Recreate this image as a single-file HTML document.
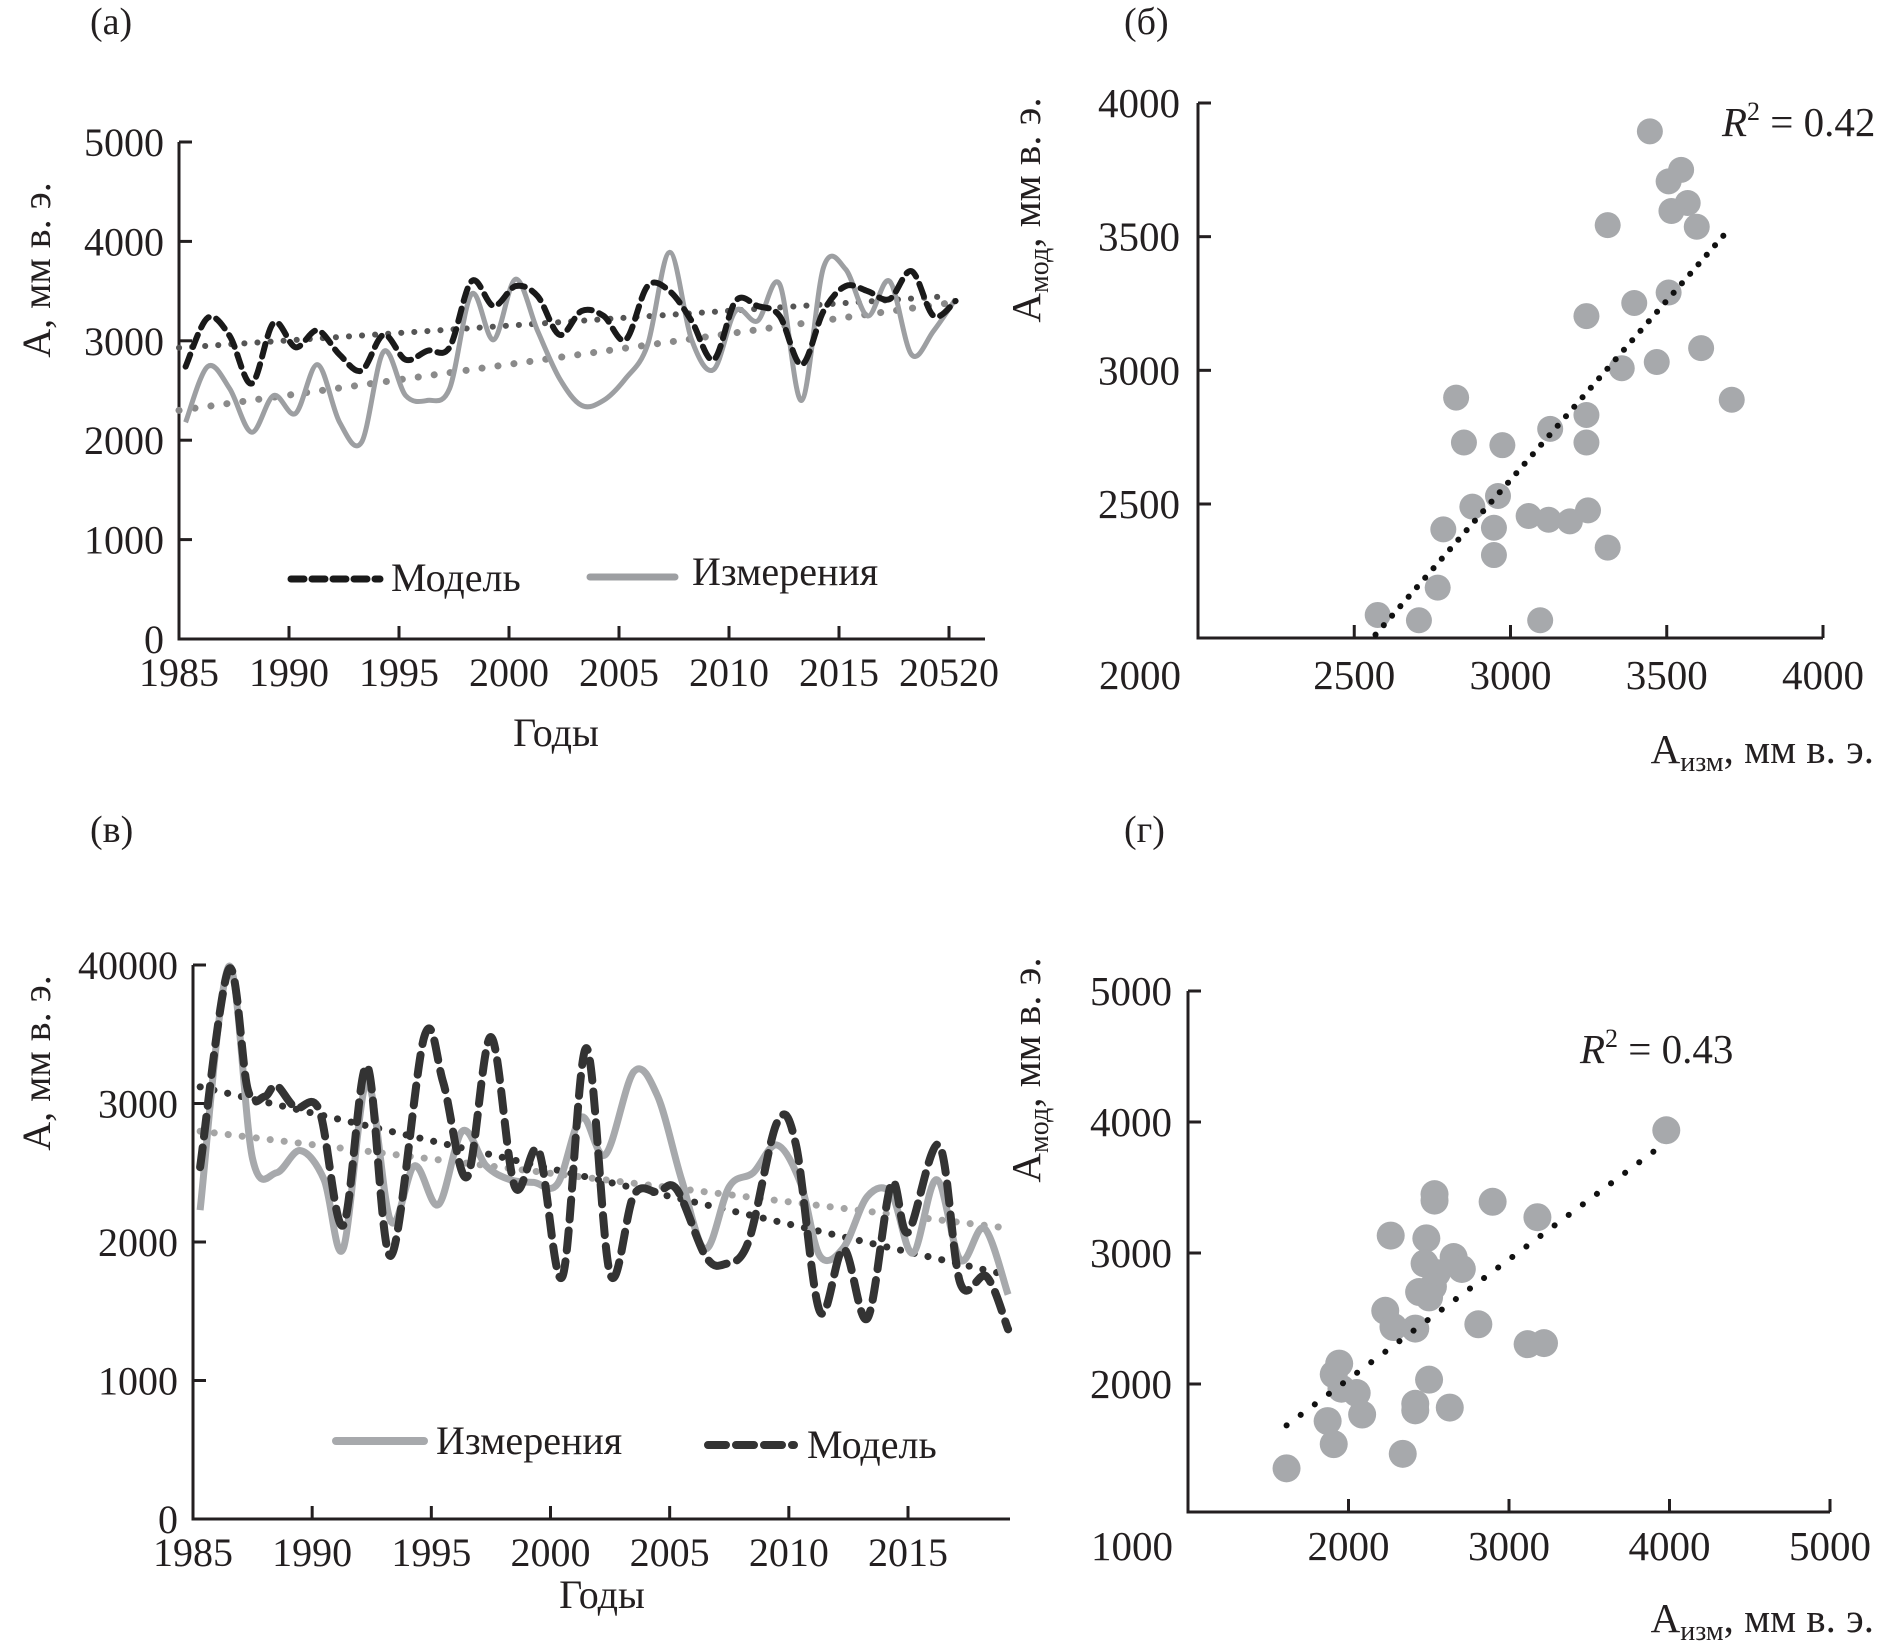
<!DOCTYPE html>
<html><head><meta charset="utf-8">
<style>
html,body{margin:0;padding:0;background:#fff;}
svg{display:block;font-family:"Liberation Serif","Noto Serif CJK SC",serif;}
</style></head>
<body>
<svg id="fig" width="1888" height="1644" viewBox="0 0 1888 1644" xmlns="http://www.w3.org/2000/svg"></svg>
<script>
// ---------- Panel (a) data ----------
const yearsA = [1985,1986,1987,1988,1989,1990,1991,1992,1993,1994,1995,1996,1997,1998,1999,2000,2001,2002,2003,2004,2005,2006,2007,2008,2009,2010,2011,2012,2013,2014,2015,2016,2017,2018,2019,2020];
const modelA = [2740,3230,3050,2570,3180,2935,3105,2860,2700,3060,2810,2900,2935,3600,3350,3550,3450,3060,3300,3250,3010,3550,3500,3200,2810,3400,3350,3250,2760,3300,3550,3500,3420,3700,3250,3400];
const measA = [2180,2740,2520,2080,2450,2270,2760,2180,1980,2890,2450,2400,2520,3470,3010,3620,3100,2620,2350,2400,2620,2960,3890,3010,2710,3300,3200,3570,2400,3740,3720,3250,3600,2860,3100,3420];
const trendModelA = [2930,3450];
const trendMeasA = [2300,3380];
const yTicksA = [0,1000,2000,3000,4000,5000];
const xTicksA = [1985,1990,1995,2000,2005,2010,2015,2020];
const xTickLabelsA = ["1985","1990","1995","2000","2005","2010","2015","20520"];

// ---------- Panel (б) data ----------
const measB = [3446,3546,3506,3567,3515,3596,3311,3506,3396,3243,3610,3468,3356,3708,2826,3243,3243,2851,2974,3127,2960,2878,2947,3058,3122,3190,3248,2785,2947,3311,2767,2575,2707,3095];
const modB  = [3894,3750,3707,3626,3596,3537,3543,3291,3252,3203,3083,3031,3008,2890,2898,2833,2730,2730,2720,2781,2530,2490,2411,2455,2441,2435,2476,2405,2309,2337,2187,2085,2065,2065];
const trendB_x = [2568,3686];
const trendB_y = [2011,3510];
const yTicksB = [2500,3000,3500,4000];
const xTicksB = [2000,2500,3000,3500,4000];

// ---------- Panel (в) data ----------
const yearsMeasV = [1985.3,1986.5,1987.5,1988.5,1989.5,1990.5,1991.3,1992.3,1993.3,1994.3,1995.3,1996.3,1997.3,1998.3,1999.3,2000.3,2001.3,2002.3,2003.5,2004.5,2005.5,2006.5,2007.5,2008.5,2009.5,2010.5,2011.3,2012.3,2013.3,2014.3,2015.2,2016.2,2017.2,2018.2,2019.2];
const measV = [2230,3990,2600,2500,2660,2450,1950,3150,2150,2550,2270,2800,2550,2450,2430,2420,2900,2630,3230,3050,2450,1950,2400,2500,2700,2420,1900,1960,2330,2350,1920,2450,1870,2100,1620];
const yearsModelV = [1985.3,1986.5,1987.3,1988,1988.5,1989.3,1990.3,1991.3,1992.3,1993.3,1994.7,1995.5,1996.5,1997.5,1998.5,1999.5,2000.5,2001.5,2002.5,2003.5,2004.5,2005.3,2006.5,2007.3,2008.3,2009.5,2010.3,2011.3,2012.3,2013.3,2014.3,2015,2016.3,2017.2,2018.3,2019.2];
const modelV = [2540,3970,3100,3050,3130,2970,2950,2120,3270,1900,3480,3150,2470,3480,2400,2660,1750,3400,1770,2340,2360,2380,1900,1840,2000,2860,2700,1500,1950,1450,2420,2070,2700,1700,1750,1370];
const trendModelV = [3120,1760];
const trendMeasV = [2800,2100];
const trendYearsV = [1985.3,2019.2];
const yTicksV = [0,1000,2000,3000,4000];
const yTickLabelsV = ["0","1000","2000","3000","40000"];
const xTicksV = [1985,1990,1995,2000,2005,2010,2015];

// ---------- Panel (г) data ----------
const measG = [3980,2536,2536,2898,3177,2263,2485,2655,2474,2706,2550,2526,2440,2502,2229,2280,2416,2809,3116,3218,1942,1908,2051,1956,2502,2085,2416,2416,2631,1870,1908,2338,1614];
const modG  = [3937,3449,3400,3391,3273,3133,3112,2969,2920,2878,2846,2743,2702,2661,2559,2435,2423,2456,2304,2312,2156,2074,1931,1964,2033,1767,1849,1799,1820,1717,1541,1467,1356];
const trendG_x = [1614,3918];
const trendG_y = [1684,3790];
const yTicksG = [2000,3000,4000,5000];
const xTicksG = [1000,2000,3000,4000,5000];

const NS = "http://www.w3.org/2000/svg";
const svg = document.getElementById('fig');
function el(tag, attrs, parent){
  const e = document.createElementNS(NS, tag);
  for (const k in attrs) e.setAttribute(k, attrs[k]);
  (parent||svg).appendChild(e);
  return e;
}
function txt(s, x, y, size, anchor, parent, extra){
  const t = el('text', Object.assign({x:x, y:y, 'font-size':size, 'text-anchor':anchor||'start', fill:'#231f20'}, extra||{}), parent);
  t.textContent = s;
  return t;
}
function lin(d0,d1,p0,p1){ return v => p0 + (v-d0)/(d1-d0)*(p1-p0); }
function smoothPath(pts){
  let d = 'M'+pts[0][0].toFixed(1)+','+pts[0][1].toFixed(1);
  for (let i=0;i<pts.length-1;i++){
    const p0 = pts[Math.max(0,i-1)], p1 = pts[i], p2 = pts[i+1], p3 = pts[Math.min(pts.length-1,i+2)];
    const c1x = p1[0]+(p2[0]-p0[0])/6, c1y = p1[1]+(p2[1]-p0[1])/6;
    const c2x = p2[0]-(p3[0]-p1[0])/6, c2y = p2[1]-(p3[1]-p1[1])/6;
    d += ' C'+c1x.toFixed(1)+','+c1y.toFixed(1)+' '+c2x.toFixed(1)+','+c2y.toFixed(1)+' '+p2[0].toFixed(1)+','+p2[1].toFixed(1);
  }
  return d;
}
const AX = '#231f20';
const FS = 40;

// ================= Panel (a) =================
{
  const g = el('g', {});
  
  
  const x = lin(1985, 2020, 179, 949);
  const y = lin(0, 5000, 639, 142);
  const lbl = txt('(a)', 90, 34, 38, 'start', g);
  
  
  const axes = el('path', {d:'M179,'+y(5000)+' V639 H985', stroke:AX, 'stroke-width':3, fill:'none'}, g);
  
  
  yTicksA.forEach(v => {
    el('line', {x1:179, x2:192, y1:y(v), y2:y(v), stroke:AX, 'stroke-width':3}, g);
    const t = txt(String(v), 164, y(v)+14, FS, 'end', g);
    
    
  });
  xTicksA.forEach((v,i) => {
    if (i>0) el('line', {x1:x(v), x2:x(v), y1:639, y2:626, stroke:AX, 'stroke-width':3}, g);
    const t = txt(xTickLabelsA[i], x(v), 686, FS, 'middle', g);
    
    
  });
  const yt = txt('A, мм в. э.', 0, 0, FS, 'middle', g, {transform:'translate(50,270) rotate(-90)'});
  
  
  const xt = txt('Годы', 556, 746, FS, 'middle', g);
  
  
  // trends
  const tm = el('line', {x1:x(1985), y1:y(trendModelA[0]), x2:x(2020), y2:y(trendModelA[1]), stroke:'#555', 'stroke-width':6, 'stroke-dasharray':'0.1 13', 'stroke-linecap':'round'}, g);
  
  
  const tmeas = el('line', {x1:x(1985), y1:y(trendMeasA[0]), x2:x(2020), y2:y(trendMeasA[1]), stroke:'#8a8a8a', 'stroke-width':7, 'stroke-dasharray':'0.1 16', 'stroke-linecap':'round'}, g);
  
  
  const pm = el('path', {d:smoothPath(yearsA.map((yr,i)=>[x(yr+0.3), y(measA[i])])), stroke:'#9d9fa2', 'stroke-width':5, fill:'none'}, g);
  
  
  const pd = el('path', {d:smoothPath(yearsA.map((yr,i)=>[x(yr+0.3), y(modelA[i])])), stroke:'#1a1a1a', 'stroke-width':6, fill:'none', 'stroke-dasharray':'13 8', 'stroke-linecap':'round'}, g);
  
  
  // legend
  const l1 = el('line', {x1:291, x2:380, y1:579, y2:579, stroke:'#1a1a1a', 'stroke-width':7, 'stroke-dasharray':'13 8', 'stroke-linecap':'round'}, g);
  
  
  const lt1 = txt('Модель', 391, 591, FS, 'start', g);
  
  
  const l2 = el('line', {x1:590, x2:675, y1:577, y2:577, stroke:'#9d9fa2', 'stroke-width':7, 'stroke-linecap':'round'}, g);
  
  
  const lt2 = txt('Измерения', 692, 585, FS, 'start', g);
  
  
}

// ================= Panel (б) =================
{
  const g = el('g', {});
  
  
  const x = lin(2000, 4000, 1198, 1823);
  const y = lin(2500, 4000, 504, 103);
  const y0 = 638;
  const lbl = txt('(б)', 1124, 34, 38, 'start', g);
  
  
  const axes = el('path', {d:'M1198,'+y(4000)+' V'+y0+' H1823', stroke:AX, 'stroke-width':3, fill:'none'}, g);
  
  
  yTicksB.forEach(v => {
    el('line', {x1:1198, x2:1211, y1:y(v), y2:y(v), stroke:AX, 'stroke-width':3}, g);
    const t = txt(String(v), 1180, y(v)+14, FS+1, 'end', g);
    
    
  });
  xTicksB.forEach((v,i) => {
    if (i>0) el('line', {x1:x(v), x2:x(v), y1:y0, y2:y0-13, stroke:AX, 'stroke-width':3}, g);
    const xx = i===0 ? 1140 : x(v);
    const t = txt(String(v), xx, 689, FS+1, 'middle', g);
    
    
  });
  const yt = el('text', {'font-size':FS+1, 'text-anchor':'middle', fill:'#231f20', transform:'translate(1040,210) rotate(-90)'}, g);
  yt.innerHTML = 'A<tspan font-size="28" dy="8">мод</tspan><tspan dy="-8">, мм в. э.</tspan>';
  
  
  const xt = el('text', {x:1874, y:763, 'font-size':FS+1, 'text-anchor':'end', fill:'#231f20'}, g);
  xt.innerHTML = 'A<tspan font-size="28" dy="8">изм</tspan><tspan dy="-8">, мм в. э.</tspan>';
  
  
  const r2 = el('text', {x:1722, y:136, 'font-size':FS+1, fill:'#231f20'}, g);
  r2.innerHTML = '<tspan font-style="italic">R</tspan><tspan font-size="26" dy="-16">2</tspan><tspan dy="16"> = 0.42</tspan>';
  
  
  measB.forEach((v,i) => {
    const c = el('circle', {cx:x(v), cy:y(modB[i]), r:13, fill:'#a7a9ac'}, g);
    
    
  });
  const tr = el('line', {x1:x(trendB_x[0]), y1:y(trendB_y[0]), x2:x(trendB_x[1]), y2:y(trendB_y[1]), stroke:'#111', 'stroke-width':6, 'stroke-dasharray':'0.1 12.5', 'stroke-linecap':'round'}, g);
  
  
}

// ================= Panel (в) =================
{
  const g = el('g', {});
  
  
  const x = lin(1985, 2015, 193, 908);
  const y = lin(0, 4000, 1519, 965);
  const lbl = txt('(в)', 90, 842, 38, 'start', g);
  
  
  const axes = el('path', {d:'M193,'+y(4000)+' V1519 H1010', stroke:AX, 'stroke-width':3, fill:'none'}, g);
  
  
  yTicksV.forEach((v,i) => {
    el('line', {x1:193, x2:206, y1:y(v), y2:y(v), stroke:AX, 'stroke-width':3}, g);
    const t = txt(yTickLabelsV[i], 178, y(v)+14, FS, 'end', g);
    
    
  });
  xTicksV.forEach((v,i) => {
    if (i>0) el('line', {x1:x(v), x2:x(v), y1:1519, y2:1506, stroke:AX, 'stroke-width':3}, g);
    const t = txt(String(v), x(v), 1566, FS, 'middle', g);
    
    
  });
  const yt = txt('A, мм в. э.', 0, 0, FS, 'middle', g, {transform:'translate(50,1063) rotate(-90)'});
  
  
  const xt = txt('Годы', 602, 1608, FS, 'middle', g);
  
  
  const tmeas = el('line', {x1:x(trendYearsV[0]), y1:y(trendMeasV[0]), x2:x(trendYearsV[1]), y2:y(trendMeasV[1]), stroke:'#a5a5a5', 'stroke-width':7, 'stroke-dasharray':'0.1 14', 'stroke-linecap':'round'}, g);
  
  
  const tm = el('line', {x1:x(trendYearsV[0]), y1:y(trendModelV[0]), x2:x(trendYearsV[1]), y2:y(trendModelV[1]), stroke:'#333', 'stroke-width':7, 'stroke-dasharray':'0.1 14', 'stroke-linecap':'round'}, g);
  
  
  const pm = el('path', {d:smoothPath(yearsMeasV.map((yr,i)=>[x(yr), y(measV[i])])), stroke:'#a7a9ac', 'stroke-width':7, fill:'none'}, g);
  
  
  const pd = el('path', {d:smoothPath(yearsModelV.map((yr,i)=>[x(yr), y(modelV[i])])), stroke:'#333', 'stroke-width':8, fill:'none', 'stroke-dasharray':'20 11', 'stroke-linecap':'round'}, g);
  
  
  const l1 = el('line', {x1:336, x2:424, y1:1441, y2:1441, stroke:'#a7a9ac', 'stroke-width':8, 'stroke-linecap':'round'}, g);
  
  
  const lt1 = txt('Измерения', 436, 1454, FS, 'start', g);
  
  
  const l2 = el('line', {x1:708, x2:794, y1:1445, y2:1445, stroke:'#333', 'stroke-width':8, 'stroke-dasharray':'18 10', 'stroke-linecap':'round'}, g);
  
  
  const lt2 = txt('Модель', 807, 1458, FS, 'start', g);
  
  
}

// ================= Panel (г) =================
{
  const g = el('g', {});
  
  
  const x = lin(1000, 5000, 1188, 1830);
  const y = lin(1000, 5000, 1515, 991);
  const lbl = txt('(г)', 1124, 842, 38, 'start', g);
  
  
  const axes = el('path', {d:'M1188,'+y(5000)+' V1512 H1830', stroke:AX, 'stroke-width':3, fill:'none'}, g);
  
  
  yTicksG.forEach(v => {
    el('line', {x1:1188, x2:1201, y1:y(v), y2:y(v), stroke:AX, 'stroke-width':3}, g);
    const t = txt(String(v), 1172, y(v)+14, FS+1, 'end', g);
    
    
  });
  xTicksG.forEach((v,i) => {
    if (i>0) el('line', {x1:x(v), x2:x(v), y1:1512, y2:1499, stroke:AX, 'stroke-width':3}, g);
    const xx = i===0 ? 1132 : x(v);
    const t = txt(String(v), xx, 1560, FS+1, 'middle', g);
    
    
  });
  const yt = el('text', {'font-size':FS+1, 'text-anchor':'middle', fill:'#231f20', transform:'translate(1040,1070) rotate(-90)'}, g);
  yt.innerHTML = 'A<tspan font-size="28" dy="8">мод</tspan><tspan dy="-8">, мм в. э.</tspan>';
  
  
  const xt = el('text', {x:1874, y:1632, 'font-size':FS+1, 'text-anchor':'end', fill:'#231f20'}, g);
  xt.innerHTML = 'A<tspan font-size="28" dy="8">изм</tspan><tspan dy="-8">, мм в. э.</tspan>';
  
  
  const r2 = el('text', {x:1580, y:1063, 'font-size':FS+1, fill:'#231f20'}, g);
  r2.innerHTML = '<tspan font-style="italic">R</tspan><tspan font-size="26" dy="-16">2</tspan><tspan dy="16"> = 0.43</tspan>';
  
  
  measG.forEach((v,i) => {
    const c = el('circle', {cx:x(v), cy:y(modG[i]), r:14, fill:'#a7a9ac'}, g);
    
    
  });
  const tr = el('line', {x1:x(trendG_x[0]), y1:y(trendG_y[0]), x2:x(trendG_x[1]), y2:y(trendG_y[1]), stroke:'#111', 'stroke-width':6, 'stroke-dasharray':'0.1 17.5', 'stroke-linecap':'round'}, g);
  
  
}
</script>
</body></html>
